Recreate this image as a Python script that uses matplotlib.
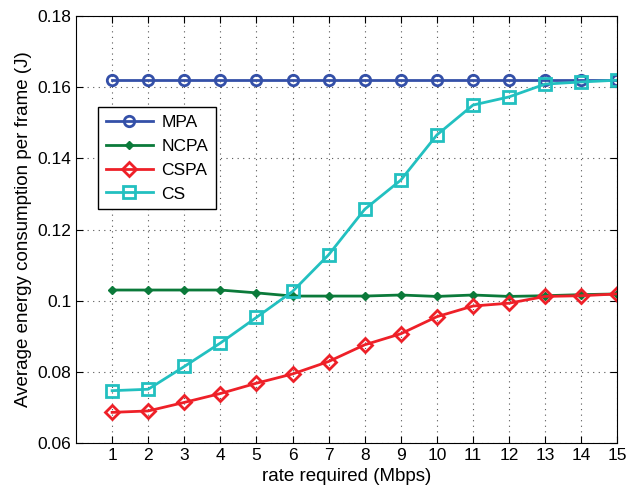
import matplotlib
matplotlib.use("Agg")
import matplotlib.pyplot as plt

rate = list(range(1, 16))
mpa = [0.162] * 15
ncpa = [0.1030, 0.1030, 0.1030, 0.1030, 0.1022, 0.1013, 0.1013, 0.1013,
        0.1016, 0.1012, 0.1016, 0.1012, 0.1014, 0.1017, 0.1019]
cspa = [0.0686, 0.0690, 0.0714, 0.0739, 0.0768, 0.0794, 0.0829, 0.0876,
        0.0907, 0.0955, 0.0985, 0.0993, 0.1012, 0.1014, 0.1019]
cs = [0.0747, 0.0751, 0.0815, 0.0881, 0.0953, 0.1026, 0.1129, 0.1257,
      0.1339, 0.1466, 0.1550, 0.1573, 0.1609, 0.1615, 0.1620]

plt.rcParams['font.family'] = ['Liberation Sans', 'DejaVu Sans']

fig = plt.figure(figsize=(6.39, 4.9), dpi=100)
ax = fig.add_axes([0.119, 0.096, 0.847, 0.871])

ax.plot(rate, mpa, color='#3450a8', lw=2, marker='o', ms=7.5, mfc='none',
        mew=2, label='MPA')
ax.plot(rate, ncpa, color='#0b7a3a', lw=2, marker='D', ms=4.5,
        label='NCPA')
ax.plot(rate, cspa, color='#ee2028', lw=2, marker='D', ms=7.5, mfc='none',
        mew=2, label='CSPA')
ax.plot(rate, cs, color='#22c0c0', lw=2, marker='s', ms=8.5, mfc='none',
        mew=2, label='CS')

ax.set_xlim(0, 15)
ax.set_ylim(0.06, 0.18)
ax.set_xticks(rate)
ax.set_yticks([0.06, 0.08, 0.1, 0.12, 0.14, 0.16, 0.18])
ax.set_yticklabels(['0.06', '0.08', '0.1', '0.12', '0.14', '0.16', '0.18'])
ax.tick_params(direction='in', top=True, right=True, labelsize=12.5,
               length=5)
ax.grid(True, color='#555555', linestyle=(0, (1, 4)), lw=0.8)
ax.set_xlabel('rate required (Mbps)', fontsize=13.5)
ax.set_ylabel('Average energy consumption per frame (J)', fontsize=13.5)

leg = ax.legend(loc='upper left', bbox_to_anchor=(0.041, 0.787),
                borderaxespad=0, fontsize=12.5, fancybox=False,
                framealpha=1, edgecolor='black', handlelength=2.7,
                borderpad=0.45, labelspacing=0.5, handletextpad=0.5)
leg.get_frame().set_linewidth(1)

fig.savefig('out.png', dpi=100)
